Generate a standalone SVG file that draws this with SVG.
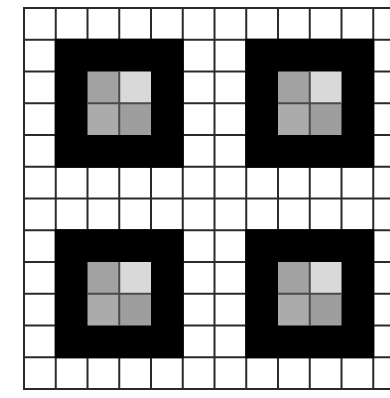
<svg xmlns="http://www.w3.org/2000/svg" width="390" height="398" viewBox="0 0 390 398">
<style>
.blk{fill:#000}
.g1{fill:#a2a2a2}
.g2{fill:#d9d9d9}
.g3{fill:#ababab}
.g4{fill:#9e9e9e}
.grid line{stroke:#2a2a2a;stroke-width:2}
.inner{stroke:#4a4a4a;stroke-width:2}
</style>
<defs>
<g id="block">
<rect class="blk" x="-1" y="-1" width="129" height="129"/>
<rect class="g1" x="31.75" y="31.75" width="31.75" height="31.75"/>
<rect class="g2" x="63.5" y="31.75" width="31.75" height="31.75"/>
<rect class="g3" x="31.75" y="63.5" width="31.75" height="31.75"/>
<rect class="g4" x="63.5" y="63.5" width="31.75" height="31.75"/>
<line class="inner" x1="63.5" y1="31.75" x2="63.5" y2="95.25"/>
<line class="inner" x1="31.75" y1="63.5" x2="95.25" y2="63.5"/>
</g>
</defs>
<rect x="0" y="0" width="390" height="398" fill="#fff"/>
<g class="grid">
<line x1="24" y1="7" x2="24" y2="390"/>
<line x1="55.75" y1="7" x2="55.75" y2="390"/>
<line x1="87.5" y1="7" x2="87.5" y2="390"/>
<line x1="119.25" y1="7" x2="119.25" y2="390"/>
<line x1="151" y1="7" x2="151" y2="390"/>
<line x1="182.75" y1="7" x2="182.75" y2="390"/>
<line x1="214.5" y1="7" x2="214.5" y2="390"/>
<line x1="246.25" y1="7" x2="246.25" y2="390"/>
<line x1="278" y1="7" x2="278" y2="390"/>
<line x1="309.75" y1="7" x2="309.75" y2="390"/>
<line x1="341.5" y1="7" x2="341.5" y2="390"/>
<line x1="373.25" y1="7" x2="373.25" y2="390"/>
<line x1="23" y1="8" x2="390" y2="8"/>
<line x1="23" y1="39.75" x2="390" y2="39.75"/>
<line x1="23" y1="71.5" x2="390" y2="71.5"/>
<line x1="23" y1="103.25" x2="390" y2="103.25"/>
<line x1="23" y1="135" x2="390" y2="135"/>
<line x1="23" y1="166.75" x2="390" y2="166.75"/>
<line x1="23" y1="198.5" x2="390" y2="198.5"/>
<line x1="23" y1="230.25" x2="390" y2="230.25"/>
<line x1="23" y1="262" x2="390" y2="262"/>
<line x1="23" y1="293.75" x2="390" y2="293.75"/>
<line x1="23" y1="325.5" x2="390" y2="325.5"/>
<line x1="23" y1="357.25" x2="390" y2="357.25"/>
<line x1="23" y1="389" x2="390" y2="389"/>
</g>
<g id="block-tl"><use href="#block" x="55.75" y="39.75"/></g>
<g id="block-tr"><use href="#block" x="246.25" y="39.75"/></g>
<g id="block-bl"><use href="#block" x="55.75" y="230.25"/></g>
<g id="block-br"><use href="#block" x="246.25" y="230.25"/></g>
</svg>
